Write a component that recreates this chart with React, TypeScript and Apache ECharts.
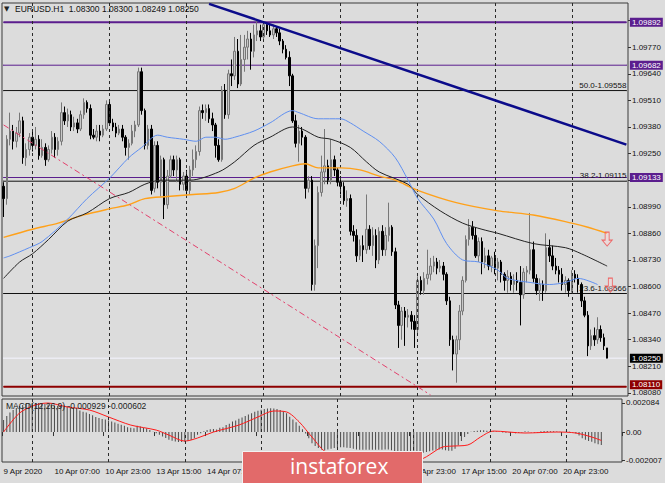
import React, { useEffect, useRef } from 'react';
import * as echarts from 'echarts';

const FONT = 'Liberation Sans';
const BG = '#dcdcdc';

// trading sessions: [day, first hour, last hour] (last slots of 21 Apr are empty chart shift)
const sessions: [string, number, number][] = [
  ['9 Apr', 15, 23], ['10 Apr', 0, 23], ['13 Apr', 0, 23], ['14 Apr', 0, 23], ['15 Apr', 0, 23],
  ['16 Apr', 0, 23], ['17 Apr', 0, 23], ['20 Apr', 0, 23], ['21 Apr', 0, 17],
];
const categories: string[] = [];
sessions.forEach(([d, a, b]) => {
  for (let h = a; h <= b; h++) categories.push(`${d} ${String(h).padStart(2, '0')}:00`);
});
const firstLabel = '9 Apr 2020';

const priceTicks = [1.0808, 1.0821, 1.0834, 1.0847, 1.086, 1.0873, 1.0886, 1.0899, 1.0912, 1.0925, 1.0938, 1.0951, 1.0964, 1.0977, 1.099];
// labels hidden behind the level boxes in the reference are not drawn
const hiddenPriceLabels = [1.0912, 1.099];
const priceLabels = priceTicks.filter((v) => !hiddenPriceLabels.includes(v));
const macdTicks = [-0.002007, 0, 0.002084];

// [open, close, low, high]
const candles: number[][] = [
  [1.0909,1.0903,1.0894,1.0911],[1.0903,1.0932,1.0900,1.0934],[1.0932,1.0936,1.0929,1.0945],[1.0936,1.0931,1.0927,1.0939],[1.0931,1.0935,1.0928,1.0938],
  [1.0935,1.0941,1.0933,1.0945],[1.0941,1.0923,1.0920,1.0943],[1.0923,1.0927,1.0919,1.0930],[1.0927,1.0933,1.0924,1.0935],[1.0933,1.0929,1.0926,1.0936],
  [1.0929,1.0932,1.0927,1.0938],[1.0932,1.0924,1.0922,1.0934],[1.0924,1.0928,1.0923,1.0932],[1.0928,1.0922,1.0919,1.0930],[1.0922,1.0927,1.0921,1.0929],
  [1.0927,1.0933,1.0925,1.0936],[1.0933,1.0927,1.0923,1.0935],[1.0927,1.0931,1.0924,1.0933],[1.0931,1.0945,1.0929,1.0950],[1.0945,1.0941,1.0939,1.0948],
  [1.0941,1.0944,1.0938,1.0947],[1.0944,1.0938,1.0936,1.0946],[1.0938,1.0940,1.0936,1.0943],[1.0940,1.0937,1.0935,1.0942],[1.0937,1.0944,1.0936,1.0946],
  [1.0944,1.0950,1.0942,1.0952],[1.0950,1.0947,1.0945,1.0951],[1.0947,1.0934,1.0932,1.0949],[1.0934,1.0933,1.0932,1.0937],[1.0933,1.0936,1.0931,1.0939],
  [1.0936,1.0934,1.0931,1.0939],[1.0934,1.0937,1.0933,1.0939],[1.0937,1.0949,1.0936,1.0951],[1.0949,1.0940,1.0939,1.0951],[1.0940,1.0938,1.0936,1.0942],
  [1.0938,1.0935,1.0933,1.0940],[1.0935,1.0937,1.0934,1.0939],[1.0937,1.0933,1.0931,1.0939],[1.0933,1.0928,1.0924,1.0934],[1.0928,1.0930,1.0922,1.0932],
  [1.0930,1.0936,1.0929,1.0939],[1.0936,1.0939,1.0933,1.0941],[1.0939,1.0965,1.0938,1.0967],[1.0965,1.0946,1.0944,1.0967],[1.0946,1.0929,1.0927,1.0947],
  [1.0929,1.0937,1.0927,1.0939],[1.0937,1.0907,1.0905,1.0939],[1.0908,1.0929,1.0906,1.0931],[1.0929,1.0911,1.0908,1.0931],[1.0911,1.0922,1.0904,1.0924],
  [1.0922,1.0900,1.0893,1.0923],[1.0900,1.0914,1.0898,1.0917],[1.0914,1.0922,1.0913,1.0924],[1.0922,1.0917,1.0914,1.0924],[1.0917,1.0922,1.0911,1.0924],
  [1.0922,1.0910,1.0907,1.0923],[1.0910,1.0914,1.0907,1.0916],[1.0914,1.0907,1.0905,1.0917],[1.0907,1.0917,1.0905,1.0919],[1.0917,1.0922,1.0914,1.0927],
  [1.0922,1.0926,1.0918,1.0929],[1.0926,1.0946,1.0924,1.0948],[1.0946,1.0945,1.0942,1.0949],[1.0945,1.0947,1.0941,1.0949],[1.0947,1.0942,1.0940,1.0949],
  [1.0942,1.0939,1.0936,1.0945],[1.0939,1.0929,1.0923,1.0940],[1.0929,1.0922,1.0921,1.0932],[1.0922,1.0956,1.0921,1.0958],[1.0956,1.0944,1.0942,1.0959],
  [1.0944,1.0964,1.0942,1.0966],[1.0964,1.0963,1.0958,1.0971],[1.0963,1.0975,1.0961,1.0982],[1.0975,1.0959,1.0957,1.0981],[1.0959,1.0971,1.0958,1.0983],
  [1.0971,1.0977,1.0965,1.0983],[1.0977,1.0981,1.0971,1.0985],[1.0981,1.0975,1.0966,1.0984],[1.0975,1.0983,1.0972,1.0988],[1.0983,1.0985,1.0980,1.0990],
  [1.0985,1.0982,1.0980,1.0988],[1.0982,1.0988,1.0981,1.0989],[1.0988,1.0985,1.0983,1.0989],[1.0985,1.0983,1.0982,1.0988],[1.0983,1.0986,1.0981,1.0988],
  [1.0986,1.0984,1.0982,1.0987],[1.0984,1.0980,1.0978,1.0986],[1.0980,1.0976,1.0974,1.0981],[1.0976,1.0972,1.0971,1.0978],[1.0972,1.0963,1.0958,1.0975],
  [1.0963,1.0941,1.0940,1.0964],[1.0941,1.0930,1.0928,1.0944],[1.0930,1.0936,1.0921,1.0939],[1.0936,1.0933,1.0929,1.0938],[1.0933,1.0908,1.0903,1.0934],
  [1.0908,1.0912,1.0906,1.0914],[1.0912,1.0861,1.0858,1.0914],[1.0861,1.0880,1.0858,1.0883],[1.0880,1.0906,1.0869,1.0909],[1.0906,1.0916,1.0904,1.0924],
  [1.0916,1.0919,1.0910,1.0937],[1.0919,1.0912,1.0910,1.0922],[1.0912,1.0922,1.0910,1.0932],[1.0922,1.0917,1.0914,1.0924],[1.0917,1.0911,1.0909,1.0918],
  [1.0911,1.0909,1.0905,1.0914],[1.0909,1.0902,1.0900,1.0911],[1.0902,1.0903,1.0899,1.0907],[1.0903,1.0887,1.0885,1.0905],[1.0887,1.0885,1.0882,1.0890],
  [1.0885,1.0875,1.0872,1.0888],[1.0875,1.0880,1.0873,1.0883],[1.0880,1.0878,1.0872,1.0885],[1.0878,1.0888,1.0876,1.0905],[1.0888,1.0880,1.0878,1.0890],
  [1.0880,1.0885,1.0875,1.0889],[1.0885,1.0873,1.0869,1.0888],[1.0873,1.0887,1.0871,1.0889],[1.0887,1.0878,1.0875,1.0890],[1.0878,1.0885,1.0875,1.0889],
  [1.0885,1.0889,1.0882,1.0901],[1.0889,1.0877,1.0875,1.0890],[1.0877,1.0851,1.0849,1.0879],[1.0851,1.0841,1.0830,1.0853],[1.0841,1.0848,1.0834,1.0850],
  [1.0848,1.0845,1.0831,1.0850],[1.0845,1.0846,1.0840,1.0849],[1.0846,1.0843,1.0839,1.0848],[1.0843,1.0839,1.0830,1.0846],[1.0839,1.0863,1.0837,1.0865],
  [1.0863,1.0858,1.0856,1.0865],[1.0858,1.0864,1.0856,1.0867],[1.0864,1.0866,1.0861,1.0878],[1.0866,1.0870,1.0863,1.0874],[1.0870,1.0872,1.0867,1.0875],
  [1.0872,1.0869,1.0866,1.0874],[1.0869,1.0870,1.0867,1.0873],[1.0870,1.0866,1.0863,1.0872],[1.0866,1.0853,1.0851,1.0867],[1.0853,1.0834,1.0831,1.0855],
  [1.0834,1.0827,1.0819,1.0836],[1.0827,1.0834,1.0813,1.0836],[1.0834,1.0848,1.0829,1.0851],[1.0848,1.0863,1.0846,1.0865],[1.0863,1.0883,1.0862,1.0885],
  [1.0883,1.0889,1.0880,1.0893],[1.0889,1.0885,1.0883,1.0892],[1.0885,1.0875,1.0874,1.0889],[1.0875,1.0882,1.0872,1.0884],[1.0882,1.0872,1.0866,1.0884],
  [1.0872,1.0875,1.0869,1.0879],[1.0875,1.0870,1.0868,1.0878],[1.0870,1.0874,1.0867,1.0875],[1.0874,1.0869,1.0866,1.0877],[1.0869,1.0872,1.0863,1.0874],
  [1.0872,1.0866,1.0862,1.0873],[1.0866,1.0863,1.0858,1.0867],[1.0863,1.0865,1.0857,1.0868],[1.0865,1.0861,1.0858,1.0867],[1.0861,1.0863,1.0857,1.0866],
  [1.0863,1.0862,1.0858,1.0867],[1.0862,1.0856,1.0841,1.0870],[1.0856,1.0867,1.0854,1.0869],[1.0867,1.0868,1.0862,1.0870],[1.0868,1.0878,1.0866,1.0896],
  [1.0878,1.0864,1.0862,1.0882],[1.0864,1.0858,1.0856,1.0866],[1.0858,1.0861,1.0853,1.0864],[1.0861,1.0858,1.0853,1.0863],[1.0858,1.0879,1.0857,1.0886],
  [1.0879,1.0875,1.0872,1.0883],[1.0875,1.0870,1.0868,1.0880],[1.0870,1.0868,1.0866,1.0874],[1.0868,1.0866,1.0862,1.0870],[1.0866,1.0861,1.0858,1.0869],
  [1.0861,1.0863,1.0857,1.0865],[1.0863,1.0858,1.0855,1.0864],[1.0858,1.0866,1.0857,1.0868],[1.0866,1.0864,1.0862,1.0868],[1.0864,1.0861,1.0857,1.0866],
  [1.0861,1.0853,1.0850,1.0862],[1.0853,1.0846,1.0845,1.0855],[1.0846,1.0831,1.0826,1.0848],[1.0831,1.0836,1.0829,1.0839],[1.0836,1.0834,1.0831,1.0840],
  [1.0834,1.0839,1.0832,1.0845],[1.0839,1.0835,1.0833,1.0841],[1.0835,1.0831,1.0829,1.0837],[1.0830,1.0825,1.08249,1.0830],
];

// moving averages read at [bar index, price]
const maBlue: number[][] = [
  [0,1.0874],[2,1.0875],[8,1.0879],[12,1.0882],[20,1.0893],[26,1.0903],[33,1.0913],[39,1.0923],[43,1.0928],[48,1.0934],
  [51,1.0933],[56,1.0932],[60,1.0931],[63,1.0933],[66,1.0933],[69,1.0932],[72,1.0933],[78,1.0936],[83,1.0940],[90,1.0946],
  [92,1.0945],[98,1.0942],[105,1.0942],[108,1.0940],[112,1.0936],[117,1.0931],[122,1.0923],[126,1.0912],[129,1.0903],[134,1.0893],
  [138,1.0881],[143,1.0873],[148,1.0872],[154,1.0868],[157,1.0864],[164,1.0862],[170,1.0861],[175,1.0862],[179,1.0864],[185,1.0861],
];
const maBlack: number[][] = [
  [0,1.0864],[5,1.0872],[9,1.0876],[14,1.0883],[20,1.0892],[26,1.0896],[33,1.0903],[39,1.0906],[44,1.0910],[49,1.0912],
  [58,1.0912],[67,1.0916],[72,1.0921],[78,1.0929],[83,1.0933],[90,1.0938],[93,1.0937],[98,1.0933],[102,1.0932],[108,1.0928],
  [113,1.0921],[117,1.0916],[126,1.0910],[129,1.0905],[136,1.0897],[143,1.0891],[149,1.0888],[154,1.0886],[165,1.0881],[175,1.0879],
  [180,1.0876],[188,1.0870],
];
const maOrange: number[][] = [
  [0,1.0884],[9,1.0888],[17,1.0891],[25,1.0895],[33,1.0898],[39,1.0900],[44,1.0903],[51,1.0904],[59,1.0905],[67,1.0906],
  [72,1.0908],[78,1.0913],[83,1.0916],[90,1.0919],[94,1.0920],[98,1.0918],[105,1.0918],[111,1.0917],[117,1.0914],[122,1.0912],
  [129,1.0907],[141,1.0901],[154,1.0897],[165,1.0895],[177,1.0891],[182,1.0889],[188,1.0886],
];

const macdHist: number[] = [
  0.00086,0.00115,0.00140,0.00158,0.00172,0.00187,0.00194,0.00201,0.00205,0.00208,0.00208,
  0.00208,0.00205,0.00201,0.00197,0.00194,0.00190,0.00187,0.00190,0.00190,0.00187,
  0.00180,0.00172,0.00165,0.00155,0.00145,0.00140,0.00130,0.00120,0.00108,0.00100,
  0.00093,0.00090,0.00082,0.00075,0.00068,0.00060,0.00052,0.00045,0.00035,0.00030,
  0.00028,0.00045,0.00040,0.00030,0.00025,0.00015,0.00002,-0.00008,-0.00020,-0.00032,
  -0.00043,-0.00055,-0.00062,-0.00068,-0.00072,-0.00072,-0.00070,-0.00065,-0.00058,-0.00045,
  -0.00020,-0.00008,0.00005,0.00014,0.00020,0.00022,0.00018,0.00030,0.00035,0.00050,
  0.00060,0.00075,0.00082,0.00095,0.00105,0.00115,0.00125,0.00135,0.00145,0.00152,
  0.00160,0.00165,0.00168,0.00170,0.00168,0.00165,0.00158,0.00150,0.00135,0.00110,
  0.00090,0.00070,0.00045,0.00020,-0.00010,-0.00045,-0.00080,-0.00100,-0.00115,-0.00125,
  -0.00130,-0.00125,-0.00120,-0.00115,-0.00112,-0.00110,-0.00110,-0.00112,-0.00115,-0.00120,
  -0.00125,-0.00128,-0.00128,-0.00127,-0.00127,-0.00128,-0.00128,-0.00128,-0.00127,-0.00125,
  -0.00125,-0.00130,-0.00140,-0.00148,-0.00152,-0.00155,-0.00157,-0.00160,-0.00155,-0.00150,
  -0.00150,-0.00148,-0.00143,-0.00138,-0.00132,-0.00128,-0.00125,-0.00125,-0.00130,-0.00135,-0.00135,
  -0.00120,-0.00095,-0.00065,-0.00035,-0.00015,0.00002,0.00008,0.00010,0.00012,0.00012,0.00010,0.00008,
  0.00005,0.00003,0.00000,-0.00003,-0.00005,-0.00003,-0.00002,-0.00008,-0.00005,-0.00003,0.00005,0.00003,
  -0.00002,-0.00004,-0.00005,0.00005,0.00008,0.00008,0.00006,0.00005,0.00003,0.00002,0.00000,
  0.00003,0.00002,-0.00002,-0.00010,-0.00025,-0.00045,-0.00055,-0.00065,-0.00070,-0.00080,-0.00088,-0.000929,
];
const macdSignal: number[][] = [
  [0,0],[5,0.00136],[10,0.00194],[14,0.00208],[20,0.0018],[27,0.00158],[33,0.00108],[40,0.0005],[48,0.00014],[52,-0.00022],
  [57,-0.00065],[61,-0.00043],[66,0],[74,0.0005],[80,0.00108],[85,0.00151],[89,0.00144],[93,0.00072],[97,-0.00036],[102,-0.00151],
  [117,-0.00201],[130,-0.00201],[138,-0.00108],[141,-0.00101],[146,-0.00093],[150,-0.00036],[154,0.00007],[164,-0.00007],[174,0],
  [180,-0.00007],[185,-0.00036],[188,-0.000602],
];

const trendLine: number[][] = [[64, 1.09982], [194, 1.09294]];
const channelLine: number[][] = [[0, 1.0939], [133, 1.0807]];
const boxLevels = [
  { value: 1.09892, color: '#5b1e8e', width: 2, box: '#5b1e8e', shift: 0 },
  { value: 1.09682, color: '#5b1e8e', width: 1, box: '#5b1e8e', shift: 0 },
  { value: 1.09133, color: '#5b1e8e', width: 1, box: '#5b1e8e', shift: 0 },
  { value: 1.0811, color: '#8e0000', width: 2, box: '#8e0000', shift: -2 },
  { value: 1.0825, color: '#f4f4ff', width: 1, box: '#000000', shift: 0 },
];
const fibLevels: [string, number][] = [['50.0', 1.09558], ['38.2', 1.09115], ['23.6', 1.08566]];
const arrows: number[][] = [[188, 1.08832], [189, 1.08607]];

// time labels every 16 bars; those fully covered by the watermark are not drawn
const coveredLabels = [80, 96, 112];
const labelTick = (i: number) => i % 16 === 0 && i <= 176;
const labelShown = (i: number) => labelTick(i) && !coveredLabels.includes(i);
const dayLines = categories.map((c, i) => (c.endsWith(' 00:00') ? i : -1)).filter((i) => i >= 0);
const LAST = categories.length - 1;

export default function App() {
  const ref = useRef<HTMLDivElement>(null);
  useEffect(() => {
    if (!ref.current) return;
    const chart = echarts.init(ref.current, undefined, { renderer: 'svg' });
    const last = candles[candles.length - 1];
    const title = `EURUSD.H1  ${last[0].toFixed(5)} ${last[3].toFixed(5)} ${last[2].toFixed(5)} ${last[1].toFixed(5)}`;
    const macdText = `MACD(12,26,9) ${macdHist[macdHist.length - 1].toFixed(6)} ${macdSignal[macdSignal.length - 1][1].toFixed(6)}`;
    const txt = { fontFamily: FONT, fontSize: 8, color: '#111' };
    const vLines = {
      silent: true, symbol: ['none', 'none'], label: { show: false },
      lineStyle: { color: '#2a2a2a', type: [3, 3] as any, width: 1 },
      data: dayLines.map((i) => ({ xAxis: i })),
    };
    const levelSeries: any[] = [];
    boxLevels.forEach((l) => levelSeries.push({
      type: 'line', xAxisIndex: 0, yAxisIndex: 0, silent: true, symbol: 'circle', symbolSize: 1, showSymbol: true,
      itemStyle: { color: l.color }, lineStyle: { color: l.color, width: l.width }, z: 3,
      data: [
        { value: [0, l.value], label: { show: false } },
        {
          value: [LAST, l.value],
          label: { show: true, position: 'right', distance: 3, offset: [0, l.shift], formatter: l.value.toFixed(5), backgroundColor: l.box, color: '#fff', padding: [0, 2, 0, 2], lineHeight: 9, fontFamily: FONT, fontSize: 8 },
        },
      ],
    }));
    fibLevels.forEach(([r, v]) => levelSeries.push({
      type: 'line', xAxisIndex: 0, yAxisIndex: 0, silent: true, symbol: 'circle', symbolSize: 1, showSymbol: true,
      itemStyle: { color: '#111' }, lineStyle: { color: '#111', width: 1 }, z: 3,
      data: [
        { value: [0, v], label: { show: false } },
        { value: [LAST, v], label: { show: true, position: 'top', align: 'right', distance: 1, formatter: `${r}-${v.toFixed(5)}`, fontFamily: FONT, fontSize: 8, color: '#111' } },
      ],
    }));

    chart.setOption({
      animation: false,
      backgroundColor: BG,
      grid: [
        { left: 2, top: 3, width: 626, height: 393, show: true, backgroundColor: BG, borderColor: '#3a3a3a', borderWidth: 1 },
        { left: 2, top: 399, width: 626, height: 63, show: true, backgroundColor: BG, borderColor: '#3a3a3a', borderWidth: 1 },
      ],
      xAxis: [
        { type: 'category', gridIndex: 0, data: categories, axisLine: { show: false }, axisTick: { show: false }, axisLabel: { show: false }, splitLine: { show: false } },
        {
          type: 'category', gridIndex: 1, data: categories, axisLine: { show: false },
          axisTick: { show: true, interval: labelTick, length: 4, lineStyle: { color: '#333' } },
          axisLabel: { interval: labelShown, align: 'left', margin: 5, formatter: (v: string, i: number) => (i === 0 ? firstLabel : v), ...txt },
          splitLine: { show: false },
        },
      ],
      yAxis: [
        {
          type: 'value', gridIndex: 0, position: 'right', min: 1.08065, max: 1.09986, axisLine: { show: false },
          axisTick: { show: true, customValues: priceTicks, length: 3, lineStyle: { color: '#333' } },
          axisLabel: { customValues: priceLabels, formatter: (v: number) => v.toFixed(5), margin: 4, lineHeight: 8, ...txt },
          splitLine: { show: false },
        },
        {
          type: 'value', gridIndex: 1, position: 'right', min: -0.00215, max: 0.00237, axisLine: { show: false },
          axisTick: { show: true, customValues: macdTicks, length: 3, lineStyle: { color: '#333' } },
          axisLabel: { customValues: macdTicks, formatter: (v: number) => (v === 0 ? '0.00' : v.toFixed(6)), margin: 4, ...txt },
          splitLine: { show: false },
        },
      ],
      series: [
        ...levelSeries,
        {
          type: 'candlestick', xAxisIndex: 0, yAxisIndex: 0, data: candles, barWidth: 2, z: 4,
          itemStyle: { color: '#c8c8c8', color0: '#000', borderColor: '#777', borderColor0: '#000', borderWidth: 1 },
          markLine: vLines,
        },
        { type: 'line', xAxisIndex: 0, yAxisIndex: 0, data: maOrange, smooth: 0.3, symbol: 'none', z: 5, lineStyle: { color: '#ffa11a', width: 1.4 } },
        { type: 'line', xAxisIndex: 0, yAxisIndex: 0, data: maBlack, smooth: 0.3, symbol: 'none', z: 5, lineStyle: { color: '#222', width: 1 } },
        { type: 'line', xAxisIndex: 0, yAxisIndex: 0, data: maBlue, smooth: 0.3, symbol: 'none', z: 5, lineStyle: { color: '#5f8ff0', width: 1 } },
        { type: 'line', xAxisIndex: 0, yAxisIndex: 0, data: channelLine, symbol: 'none', z: 5, lineStyle: { color: '#e2406c', width: 1, type: [6, 3, 2, 3] } },
        { type: 'line', xAxisIndex: 0, yAxisIndex: 0, data: trendLine, symbol: 'none', z: 6, lineStyle: { color: '#0b0b8a', width: 2.5 } },
        {
          type: 'scatter', xAxisIndex: 0, yAxisIndex: 0, data: arrows, symbolSize: [10, 14], z: 6,
          symbol: 'path://M3,0 L7,0 L7,8 L10,8 L5,14 L0,8 L3,8 Z',
          itemStyle: { color: 'rgba(255,215,215,0.5)', borderColor: '#f04848', borderWidth: 1 },
        },
        {
          type: 'bar', xAxisIndex: 1, yAxisIndex: 1, data: macdHist, barWidth: 1, itemStyle: { color: '#4a4a4a' },
          markLine: vLines,
        },
        { type: 'line', xAxisIndex: 1, yAxisIndex: 1, data: macdSignal, smooth: 0.3, symbol: 'none', lineStyle: { color: '#ff1a1a', width: 1 } },
      ],
      graphic: [
        { type: 'text', left: 4, top: 5, z: 10, style: { text: '▼', fontSize: 7, fill: '#222', fontFamily: 'DejaVu Sans' } },
        { type: 'text', left: 15, top: 4, z: 10, style: { text: title, fontSize: 8.5, fill: '#111', fontFamily: FONT } },
        { type: 'text', left: 6, top: 401, z: 10, style: { text: macdText, fontSize: 8.5, fill: '#222', fontFamily: FONT } },
        { type: 'rect', left: 242, top: 451, z: 20, shape: { width: 180, height: 34 }, style: { fill: '#e26a6a', stroke: '#f2f2f2', lineWidth: 1 } },
        { type: 'text', left: 290, top: 455, z: 21, style: { text: 'instaforex', fontSize: 21, fill: '#ffffff', fontFamily: 'Open Sans' } },
      ],
    });
    return () => chart.dispose();
  }, []);
  return <div ref={ref} style={{ position: 'fixed', left: 0, top: 0, width: 665, height: 483 }} />;
}
